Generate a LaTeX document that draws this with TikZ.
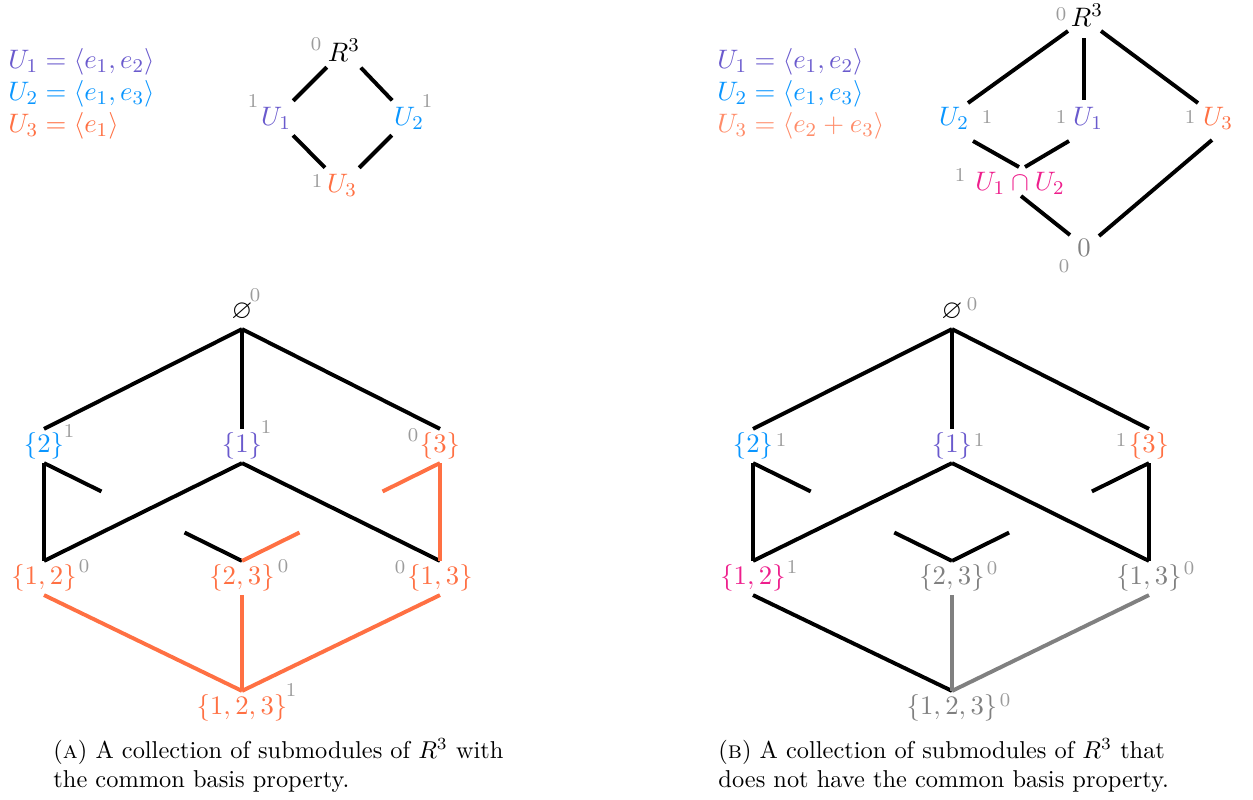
\documentclass[tikz,border=0pt]{standalone}
\usepackage{amssymb}
\usetikzlibrary{calc}
\definecolor{cUa}{RGB}{106,90,205}
\definecolor{cUb}{RGB}{10,150,255}
\definecolor{cUc}{RGB}{255,112,67}
\definecolor{cUcl}{RGB}{255,140,105}
\definecolor{cInt}{RGB}{238,30,140}
\definecolor{cGr}{RGB}{128,128,128}
\definecolor{cSm}{RGB}{155,155,155}
\begin{document}
\begin{tikzpicture}[x=0.41pt,y=-0.41pt,
  lab/.style={inner sep=0pt,font=\fontsize{10.95}{13.6}\selectfont},
  lat/.style={inner sep=1.3pt,text height=8.25pt,text depth=2.75pt,font=\fontsize{10.95}{13.6}\selectfont},
  num/.style={inner sep=0pt,text=cSm,font=\fontsize{8}{9.5}\selectfont},
  edge/.style={line width=1.6pt},
  sedge/.style={line width=1.6pt,shorten >=10pt,shorten <=10pt},
  captxt/.style={inner sep=0pt,anchor=north west,align=left,font=\fontsize{10}{12}\selectfont}]
\useasboundingbox (0,0) rectangle (1253,800);

% ---------- (A) top ----------
\node[lab,anchor=west,text=cUa] (tAa) at (8,62) {$U_1 = \langle e_1, e_2\rangle$};
\node[lab,anchor=west,text=cUb] (tAb) at (8,94) {$U_2 = \langle e_1, e_3\rangle$};
\node[lab,anchor=west,text=cUc] (tAc) at (8,126) {$U_3 = \langle e_1\rangle$};

\node[lab] (RA) at (344,50) {$R^3$};
\node[lab,text=cUa] (UaA) at (276,118) {$U_1$};
\node[lab,text=cUb] (UbA) at (409,118) {$U_2$};
\node[lab,text=cUc] (UcA) at (342,185) {$U_3$};
\node[num] (nRA) at (316,44) {0};
\node[num] (nUaA) at (253,101) {1};
\node[num] (nUbA) at (427,101) {1};
\node[num] (nUcA) at (317,181) {1};
\draw[sedge] (RA.center) -- (UaA.center);
\draw[sedge] (RA.center) -- (UbA.center);
\draw[sedge] (UaA.center) -- (UcA.center);
\draw[sedge] (UbA.center) -- (UcA.center);

% ---------- (B) top ----------
\node[lab,anchor=west,text=cUa] (tBa) at (717,62) {$U_1 = \langle e_1, e_2\rangle$};
\node[lab,anchor=west,text=cUb] (tBb) at (717,94) {$U_2 = \langle e_1, e_3\rangle$};
\node[lab,anchor=west,text=cUcl] (tBc) at (717,126) {$U_3 = \langle e_2 + e_3\rangle$};

\node[lab] (RB) at (1087,15) {$R^3$};
\node[lab,text=cUb] (UbB) at (954,118) {$U_2$};
\node[lab,text=cUa] (UaB) at (1088,118) {$U_1$};
\node[lab,text=cUc] (UcB) at (1218,118) {$U_3$};
\node[lab,text=cInt] (IB) at (1020,183) {$U_1\cap U_2$};
\node[lab,text=cGr] (ZB) at (1084,248) {$0$};
\node[num] (nRB) at (1061,14) {0};
\node[num] (nUbB) at (987,117) {1};
\node[num] (nUaB) at (1061,117) {1};
\node[num] (nUcB) at (1190,117) {1};
\node[num] (nIB) at (960,175) {1};
\node[num] (nZB) at (1064,266) {0};
\draw[edge] ($(RB)+(-19,16)$) -- ($(UbB)+(14,-15)$);
\draw[edge] ($(RB)+(-3,23)$) -- ($(UaB)+(-4,-18)$);
\draw[edge] ($(RB)+(14,16)$) -- ($(UcB)+(-20,-15)$);
\draw[edge] ($(UbB)+(19,23)$) -- ($(IB)+(-1,-16)$);
\draw[edge] ($(UaB)+(-19,23)$) -- ($(IB)+(5,-16)$);
\draw[edge] ($(IB)+(1,13)$) -- ($(ZB)+(-14,-13)$);
\draw[edge] ($(UcB)+(-6,22)$) -- ($(ZB)+(15,-12)$);

% ---------- (A) lattice ----------
\node[lat] (eA) at (242,312) {$\varnothing$};
\node[lat,text=cUb] (bA) at (44,446) {$\{2\}$};
\node[lat,text=cUa] (aA) at (242,446) {$\{1\}$};
\node[lat,text=cUc] (cA) at (440,446) {$\{3\}$};
\node[lat,text=cUc] (abA) at (44,578) {$\{1,2\}$};
\node[lat,text=cUc] (bcA) at (242,578) {$\{2,3\}$};
\node[lat,text=cUc] (acA) at (440,578) {$\{1,3\}$};
\node[lat,text=cUc] (abcA) at (242,708) {$\{1,2,3\}$};
\node[num] (neA) at (255,295) {0};
\node[num] (nbA) at (69,431) {1};
\node[num] (naA) at (266,427) {1};
\node[num] (ncA) at (413,435) {0};
\node[num] (nabA) at (84,566) {0};
\node[num] (nbcA) at (283,566) {0};
\node[num] (nacA) at (400,567) {0};
\node[num] (nabcA) at (291,690) {1};
\draw[edge] (eA.south) -- (bA.north);
\draw[edge] (eA.south) -- (aA.north);
\draw[edge] (eA.south) -- (cA.north);
\draw[edge] (bA.south) -- (abA.north);
\draw[edge] (bA.south) -- ($(bA.south)!0.29!(bcA.north)$);
\draw[edge] ($(bA.south)!0.71!(bcA.north)$) -- (bcA.north);
\draw[edge] (aA.south) -- (abA.north);
\draw[edge] (aA.south) -- (acA.north);
\draw[edge,cUc] (cA.south) -- (acA.north);
\draw[edge,cUc] (cA.south) -- ($(cA.south)!0.29!(bcA.north)$);
\draw[edge,cUc] ($(cA.south)!0.71!(bcA.north)$) -- (bcA.north);
\draw[edge,cUc] (abA.south) -- (abcA.north);
\draw[edge,cUc] (bcA.south) -- (abcA.north);
\draw[edge,cUc] (acA.south) -- (abcA.north);

% ---------- (B) lattice ----------
\node[lat] (eB) at (952,312) {$\varnothing$};
\node[lat,text=cUb] (bB) at (753,446) {$\{2\}$};
\node[lat,text=cUa] (aB) at (952,446) {$\{1\}$};
\node[lat,text=cUc] (cB) at (1149,446) {$\{3\}$};
\node[lat,text=cInt] (abB) at (753,578) {$\{1,2\}$};
\node[lat,text=cGr] (bcB) at (952,578) {$\{2,3\}$};
\node[lat,text=cGr] (acB) at (1149,578) {$\{1,3\}$};
\node[lat,text=cGr] (abcB) at (952,708) {$\{1,2,3\}$};
\node[num] (neB) at (972,304) {0};
\node[num] (nbB) at (781,440) {1};
\node[num] (naB) at (979,440) {1};
\node[num] (ncB) at (1121,440) {1};
\node[num] (nabB) at (792,567) {1};
\node[num] (nbcB) at (992,568) {0};
\node[num] (nacB) at (1189,568) {0};
\node[num] (nabcB) at (1005,700) {0};
\draw[edge] (eB.south) -- (bB.north);
\draw[edge] (eB.south) -- (aB.north);
\draw[edge] (eB.south) -- (cB.north);
\draw[edge] (bB.south) -- (abB.north);
\draw[edge] (bB.south) -- ($(bB.south)!0.29!(bcB.north)$);
\draw[edge] ($(bB.south)!0.71!(bcB.north)$) -- (bcB.north);
\draw[edge] (aB.south) -- (abB.north);
\draw[edge] (aB.south) -- (acB.north);
\draw[edge] (cB.south) -- (acB.north);
\draw[edge] (cB.south) -- ($(cB.south)!0.29!(bcB.north)$);
\draw[edge] ($(cB.south)!0.71!(bcB.north)$) -- (bcB.north);
\draw[edge] (abB.south) -- (abcB.north);
\draw[edge,cGr] (bcB.south) -- (abcB.north);
\draw[edge,cGr] (acB.south) -- (abcB.north);

% ---------- captions ----------
\node[captxt] (capA) at (53,738) {(\textsc{a}) A collection of submodules of $R^3$ with\\the common basis property.};
\node[captxt] (capB) at (718,738) {(\textsc{b}) A collection of submodules of $R^3$ that\\does not have the common basis property.};
\end{tikzpicture}
\end{document}
